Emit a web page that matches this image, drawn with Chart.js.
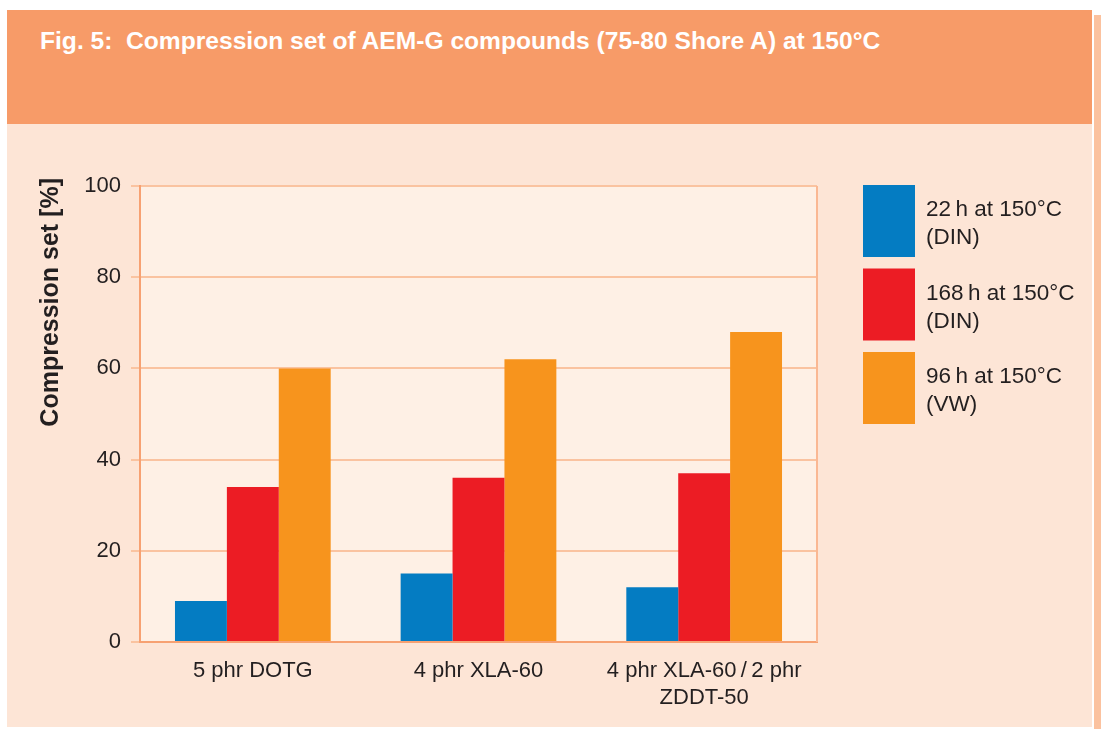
<!DOCTYPE html>
<html>
<head>
<meta charset="utf-8">
<title>Compression set</title>
<script src="https://cdn.jsdelivr.net/npm/chart.js@4.4.1/dist/chart.umd.min.js"></script>
<style>
  body { margin: 0; background: #fff; width: 1101px; height: 729px; position: relative; overflow: hidden; }
  .head { position: absolute; left: 7px; top: 10px; width: 1085px; height: 114px; background: #F79B68; }
  .head h1 { margin: 0; position: absolute; left: 33px; top: 17px; color: #fff;
    font: bold 24.6px "Liberation Sans", Arial, sans-serif; white-space: nowrap; }
  .panel { position: absolute; left: 7px; top: 124px; width: 1085px; height: 603px; background: #FDE5D6; }
  .edge { position: absolute; left: 1094px; top: 15px; width: 7px; height: 714px; background: #FBC29F; }
  canvas { position: absolute; left: 0; top: 0; }
</style>
</head>
<body>
<div class="head"><h1>Fig. 5:&nbsp; Compression set of AEM-G compounds (75-80 Shore A) at 150°C</h1></div>
<div class="edge"></div>
<div class="panel"><canvas id="cs" width="1085" height="603"></canvas></div>

<script>
const compounds = ["5 phr DOTG", "4 phr XLA-60", ["4 phr XLA-60\u2009/\u20092 phr", "ZDDT-50"]];
const set22h = [9, 15, 12];
const set168h = [34, 36, 37];
const set96h = [60, 62, 68];
const seriesNames = [["22\u2009h at 150°C", "(DIN)"], ["168\u2009h at 150°C", "(DIN)"], ["96\u2009h at 150°C", "(VW)"]];
const yTicks = [0, 20, 40, 60, 80, 100];
const yTitle = "Compression set [%]";

const FONT = '"Liberation Sans", Arial, sans-serif';
const INK = '#231F20';

// plot background, right frame line and the y title
const plotFrame = {
  id: 'plotFrame',
  beforeDraw(chart) {
    const a = chart.chartArea, c = chart.ctx;
    c.save();
    c.fillStyle = '#FEF0E5';
    c.fillRect(a.left, a.top, a.right - a.left, a.bottom - a.top);
    c.restore();
  },
  afterDraw(chart) {
    const a = chart.chartArea, c = chart.ctx;
    c.save();
    c.strokeStyle = '#FAB893';
    c.lineWidth = 2;
    c.beginPath();
    c.moveTo(a.right, a.top);
    c.lineTo(a.right, a.bottom);
    c.stroke();
    // title sits a little above the top of the plot
    c.translate(44, a.top - 8);
    c.rotate(-Math.PI / 2);
    c.fillStyle = INK;
    c.font = 'bold 25px ' + FONT;
    c.textAlign = 'right';
    c.textBaseline = 'middle';
    c.fillText(yTitle, 0, 0);
    c.restore();
  }
};

// block legend to the right of the plot
const sideLegend = {
  id: 'sideLegend',
  afterDraw(chart) {
    const c = chart.ctx;
    c.save();
    chart.data.datasets.forEach((ds, i) => {
      const top = 61 + i * 83.5;
      c.fillStyle = ds.backgroundColor;
      c.fillRect(856, top, 52, 72);
      c.fillStyle = INK;
      c.font = '22.5px ' + FONT;
      c.textBaseline = 'middle';
      c.textAlign = 'left';
      seriesNames[i].forEach((line, k) => c.fillText(line, 919, top + 25 + k * 28));
    });
    c.restore();
  }
};

new Chart(document.getElementById('cs'), {
  type: 'bar',
  data: {
    labels: compounds,
    datasets: [
      { label: '22 h', data: set22h, backgroundColor: '#047CC2' },
      { label: '168 h', data: set168h, backgroundColor: '#EC1C24' },
      { label: '96 h', data: set96h, backgroundColor: '#F7941D' }
    ]
  },
  options: {
    responsive: false,
    animation: false,
    layout: { padding: { top: 62, right: 275, left: 0, bottom: 0 } },
    datasets: { bar: { categoryPercentage: 0.69, barPercentage: 1, borderWidth: 0 } },
    plugins: { legend: { display: false }, tooltip: { enabled: false } },
    scales: {
      x: {
        grid: { display: false },
        border: { color: '#F7A172', width: 2 },
        ticks: { color: INK, font: { family: FONT, size: 22, lineHeight: 1.23 }, padding: 7, maxRotation: 0, autoSkip: false },
        afterFit(s) { s.height = 85; }
      },
      y: {
        min: 0, max: 100,
        afterBuildTicks(s) { s.ticks = yTicks.map(v => ({ value: v })); },
        grid: { color: '#FAC3A0', lineWidth: 2, tickLength: 9 },
        border: { color: '#F7A172', width: 2 },
        ticks: { color: INK, font: { family: FONT, size: 22 }, padding: 10 },
        afterFit(s) { s.width = 133; }
      }
    }
  },
  plugins: [plotFrame, sideLegend]
});
</script>
</body>
</html>
